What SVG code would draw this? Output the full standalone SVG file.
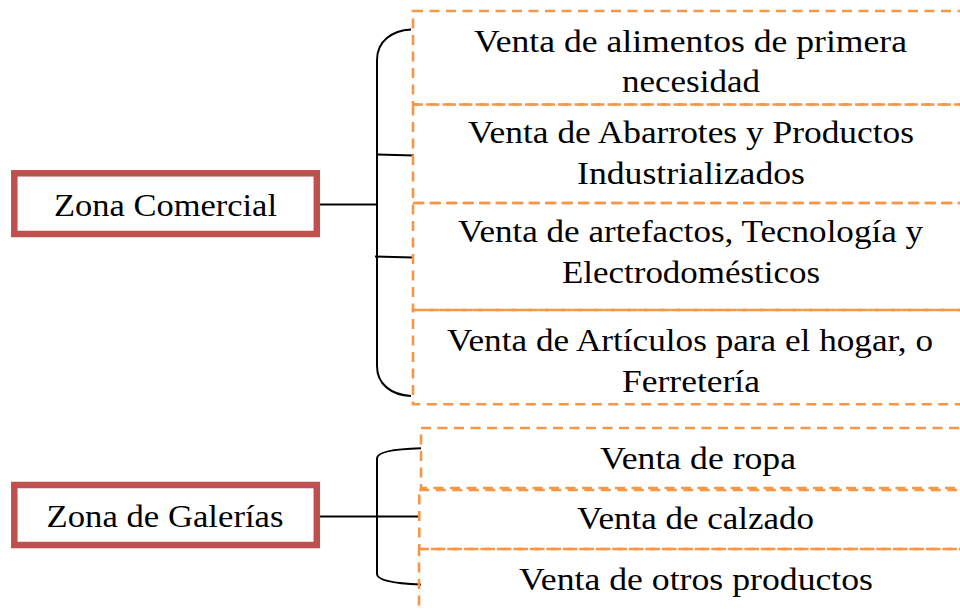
<svg xmlns="http://www.w3.org/2000/svg" width="960" height="612" viewBox="0 0 960 612">
<style>
.zone{fill:#fff;stroke:#C0504D;stroke-width:6.5}
.item{fill:none;stroke:#F79646;stroke-width:2.6;stroke-dasharray:10 6.5}
.t{font-family:"Liberation Serif","Times New Roman",serif;font-size:32px;fill:#000;text-anchor:middle}
.c{fill:none;stroke:#000;stroke-width:2}
</style>
<rect width="960" height="612" fill="#fff"/>
<g id="connectors">
<path class="c" d="M318,204.5 L376,204.5"/>
<path class="c" d="M411,29.5 C392,30.5 377,41 377,60 L377,366 C377,384 391,395 411,396"/>
<path class="c" d="M377,154.5 L414,155.5"/>
<path class="c" d="M375,256.5 L413,257.5"/>
<path class="c" d="M317,516.5 L419,516.5"/>
<path class="c" d="M421,448.3 C394,449 377,452 377,458.5 L377,574 C377,580.5 394,583.5 421,584.5"/>
</g>
<g id="zona-comercial">
<rect class="zone" x="14.3" y="173.3" width="302.5" height="60.7"/>
<text class="t" x="165.5" y="216" textLength="223" lengthAdjust="spacingAndGlyphs">Zona Comercial</text>
</g>
<g id="zona-galerias">
<rect class="zone" x="14.3" y="485" width="302.5" height="60"/>
<text class="t" x="165" y="527.3" textLength="237" lengthAdjust="spacingAndGlyphs">Zona de Galerías</text>
</g>
<g id="item-alimentos">
<rect class="item" x="413" y="11" width="600" height="93.5"/>
<text class="t" x="690.5" y="52" textLength="433" lengthAdjust="spacingAndGlyphs">Venta de alimentos de primera</text>
<text class="t" x="691" y="91.7" textLength="138" lengthAdjust="spacingAndGlyphs">necesidad</text>
</g>
<g id="item-abarrotes">
<rect class="item" x="413" y="104.5" width="600" height="98.5"/>
<text class="t" x="691" y="143.3" textLength="446" lengthAdjust="spacingAndGlyphs">Venta de Abarrotes y Productos</text>
<text class="t" x="691" y="184.3" textLength="228" lengthAdjust="spacingAndGlyphs">Industrializados</text>
</g>
<g id="item-artefactos">
<rect class="item" x="413" y="203" width="600" height="107"/>
<text class="t" x="690.5" y="241.7" textLength="465" lengthAdjust="spacingAndGlyphs">Venta de artefactos, Tecnología y</text>
<text class="t" x="691" y="283.3" textLength="258" lengthAdjust="spacingAndGlyphs">Electrodomésticos</text>
</g>
<g id="item-hogar">
<rect class="item" x="413" y="310" width="600" height="94.3"/>
<text class="t" x="690" y="351" textLength="486" lengthAdjust="spacingAndGlyphs">Venta de Artículos para el hogar, o</text>
<text class="t" x="691" y="391.7" textLength="138" lengthAdjust="spacingAndGlyphs">Ferretería</text>
</g>
<g id="item-ropa">
<rect class="item" x="421" y="428" width="600" height="60"/>
<text class="t" x="698" y="469" textLength="196" lengthAdjust="spacingAndGlyphs">Venta de ropa</text>
</g>
<g id="item-calzado">
<rect class="item" x="419.3" y="490" width="600" height="59"/>
<text class="t" x="695.5" y="529" textLength="237" lengthAdjust="spacingAndGlyphs">Venta de calzado</text>
</g>
<g id="item-otros">
<rect class="item" x="419" y="549" width="600" height="80"/>
<text class="t" x="696" y="590" textLength="354" lengthAdjust="spacingAndGlyphs">Venta de otros productos</text>
</g>
</svg>
